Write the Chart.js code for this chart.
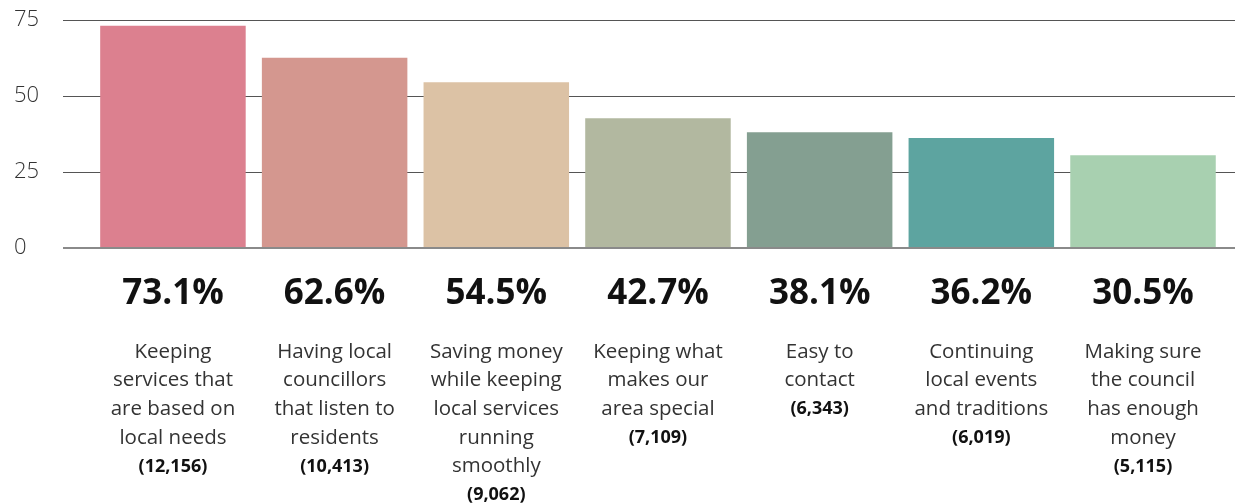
<!DOCTYPE html>
<html lang="en">
<head>
    <meta charset="UTF-8">
    <title>What matters most to residents</title>
    <script src="https://cdn.jsdelivr.net/npm/chart.js"></script>
    <style>
        body { margin: 0; padding: 0; background: #fff; }
        canvas { display: block; }
    </style>
</head>
<body>
    <canvas id="chart" width="1235" height="504"></canvas>

    <script>
        // survey results
        const categories = [
            ['Keeping', 'services that', 'are based on', 'local needs'],
            ['Having local', 'councillors', 'that listen to', 'residents'],
            ['Saving money', 'while keeping', 'local services', 'running', 'smoothly'],
            ['Keeping what', 'makes our', 'area special'],
            ['Easy to', 'contact'],
            ['Continuing', 'local events', 'and traditions'],
            ['Making sure', 'the council', 'has enough', 'money']
        ];
        const shares = [73.1, 62.6, 54.5, 42.7, 38.1, 36.2, 30.5];
        const counts = ['12,156', '10,413', '9,062', '7,109', '6,343', '6,019', '5,115'];
        const barColours = ['#dc808f', '#d4978f', '#dcc2a5', '#b2b8a0', '#849f91', '#5da4a0', '#a8d0b0'];
        const yTicks = [0, 25, 50, 75];

        const FONT = '"Open Sans", "DejaVu Sans", sans-serif';

        // percentage, description and count under each bar
        const barLabels = {
            id: 'barLabels',
            afterDraw(chart) {
                const ctx = chart.ctx;
                const x = chart.scales.x;
                ctx.save();
                ctx.textAlign = 'center';
                ctx.textBaseline = 'middle';
                shares.forEach((v, i) => {
                    const cx = x.getPixelForValue(i);
                    ctx.fillStyle = '#111';
                    ctx.font = 'bold 35px ' + FONT;
                    ctx.fillText(v.toFixed(1) + '%', cx, 294);

                    let y = 352;
                    ctx.fillStyle = '#333';
                    ctx.font = '20.5px ' + FONT;
                    categories[i].forEach(line => {
                        ctx.fillText(line, cx, y);
                        y += 28.6;
                    });
                    ctx.fillStyle = '#111';
                    ctx.font = 'bold 18px ' + FONT;
                    ctx.fillText('(' + counts[i] + ')', cx, y);
                });
                ctx.restore();
            }
        };

        const ctx = document.getElementById('chart').getContext('2d');
        const chart = new Chart(ctx, {
            type: 'bar',
            data: {
                datasets: [{
                    data: shares.map((v, i) => ({ x: i, y: v })),
                    backgroundColor: barColours,
                    borderWidth: 0,
                    barPercentage: 0.9,
                    categoryPercentage: 1
                }]
            },
            options: {
                responsive: false,
                animation: false,
                devicePixelRatio: 1,
                layout: { padding: { left: 14, top: 20, right: 0, bottom: 256 } },
                plugins: { legend: { display: false }, tooltip: { enabled: false } },
                scales: {
                    x: {
                        type: 'linear',
                        min: -0.68,
                        max: 6.569,
                        offset: false,
                        grid: { offset: false },
                        // one tick per bar so the bar slots are a whole step wide
                        afterBuildTicks: s => { s.ticks = shares.map((v, i) => ({ value: i })); },
                        display: false
                    },
                    y: {
                        min: 0,
                        max: 75,
                        afterFit: s => { s.width = 49; },
                        afterBuildTicks: s => { s.ticks = yTicks.map(v => ({ value: v })); },
                        border: { display: false },
                        grid: {
                            drawTicks: false,
                            color: c => c.tick.value === 0 ? '#8a8a8a' : '#555',
                            lineWidth: c => c.tick.value === 0 ? 2 : 1
                        },
                        ticks: {
                            crossAlign: 'far',
                            color: '#333',
                            font: { family: FONT, size: 22, weight: 300 }
                        }
                    }
                }
            },
            plugins: [barLabels]
        });
    </script>
</body>
</html>
